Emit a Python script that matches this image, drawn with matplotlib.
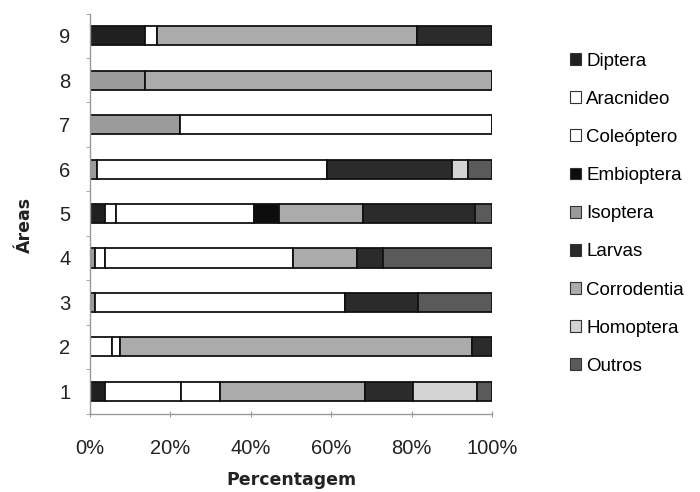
import numpy as np
import matplotlib
matplotlib.use("Agg")
import matplotlib.pyplot as plt
from matplotlib.patches import Patch

# data (percent per area), stacked left to right in this order
areas = ["1", "2", "3", "4", "5", "6", "7", "8", "9"]
isoptera = [0, 0, 1.2, 1.2, 0, 1.7, 22.4, 13.7, 0]
diptera = [3.7, 0, 0, 0, 3.7, 0, 0, 0, 13.7]
aracnideo = [18.9, 5.4, 0, 2.5, 2.8, 0, 0, 0, 3.0]
coleoptero = [9.7, 2.1, 62.2, 46.8, 34.3, 57.2, 77.6, 0, 0]
embioptera = [0, 0, 0, 0, 6.2, 0, 0, 0, 0]
corrodentia = [36.1, 87.5, 0, 15.8, 21.0, 0, 0, 86.3, 64.6]
larvas = [12.0, 5.0, 18.2, 6.7, 27.8, 31.1, 0, 0, 18.7]
homoptera = [15.9, 0, 0, 0, 0, 4.0, 0, 0, 0]
outros = [3.7, 0, 18.4, 27.0, 4.2, 6.0, 0, 0, 0]

series = {
    "Isoptera": (isoptera, "#9b9b9b"),
    "Diptera": (diptera, "#202020"),
    "Aracnideo": (aracnideo, "#ffffff"),
    "Coleóptero": (coleoptero, "#ffffff"),
    "Embioptera": (embioptera, "#0d0d0d"),
    "Corrodentia": (corrodentia, "#ababab"),
    "Larvas": (larvas, "#2b2b2b"),
    "Homoptera": (homoptera, "#d4d4d4"),
    "Outros": (outros, "#5a5a5a"),
}
legend_order = ["Diptera", "Aracnideo", "Coleóptero", "Embioptera", "Isoptera",
                "Larvas", "Corrodentia", "Homoptera", "Outros"]

plt.rcParams["font.family"] = ["Liberation Sans", "DejaVu Sans"]

fig = plt.figure(figsize=(7, 4.92), dpi=100)
ax = fig.add_axes([90 / 700, 1 - 413.5 / 492, 402 / 700, 400 / 492])

y = np.arange(len(areas))
left = np.zeros(len(areas))
for name, (vals, col) in series.items():
    vals = np.asarray(vals, dtype=float)
    ax.barh(y, vals, left=left, height=0.43, color=col,
            edgecolor="#111111", linewidth=1.3, label=name)
    left += vals

ax.set_xlim(0, 100)
ax.set_ylim(-0.5, len(areas) - 0.5)
ax.set_xticks(np.arange(0, 101, 20))
ax.set_xticklabels([f"{v}%" for v in range(0, 101, 20)])
ax.set_yticks(y)
ax.set_yticklabels(areas)
ax.set_yticks(np.arange(-0.5, len(areas)), minor=True)

ax.tick_params(axis="y", which="major", length=0, pad=14, labelsize=14.5,
               labelcolor="#222222")
ax.tick_params(axis="y", which="minor", length=3, color="#999999", direction="out")
ax.tick_params(axis="x", which="major", length=4, color="#999999",
               direction="inout", pad=16, labelsize=14.5, labelcolor="#222222")

for s in ["top", "right"]:
    ax.spines[s].set_visible(False)
for s in ["left", "bottom"]:
    ax.spines[s].set_color("#999999")
    ax.spines[s].set_linewidth(1.0)

fig.text(291 / 700, 1 - 480 / 492, "Percentagem", ha="center", va="center",
         fontsize=12.5, fontweight="bold", family="DejaVu Sans", color="#222222")
fig.text(25 / 700, 1 - 225 / 492, "Áreas", ha="center", va="center",
         rotation=90, fontsize=12.5, fontweight="bold", family="DejaVu Sans",
         color="#222222")

handles = [Patch(facecolor=series[n][1], edgecolor="#333333", linewidth=0.8)
           for n in legend_order]
fig.legend(handles, legend_order, loc="upper left",
           bbox_to_anchor=(562 / 700, 1 - 45 / 492), frameon=False,
           fontsize=13.5, handlelength=0.6, handleheight=0.6,
           handletextpad=0.3, labelspacing=1.13, borderaxespad=0)

fig.savefig("out.png", dpi=100, facecolor="white")
